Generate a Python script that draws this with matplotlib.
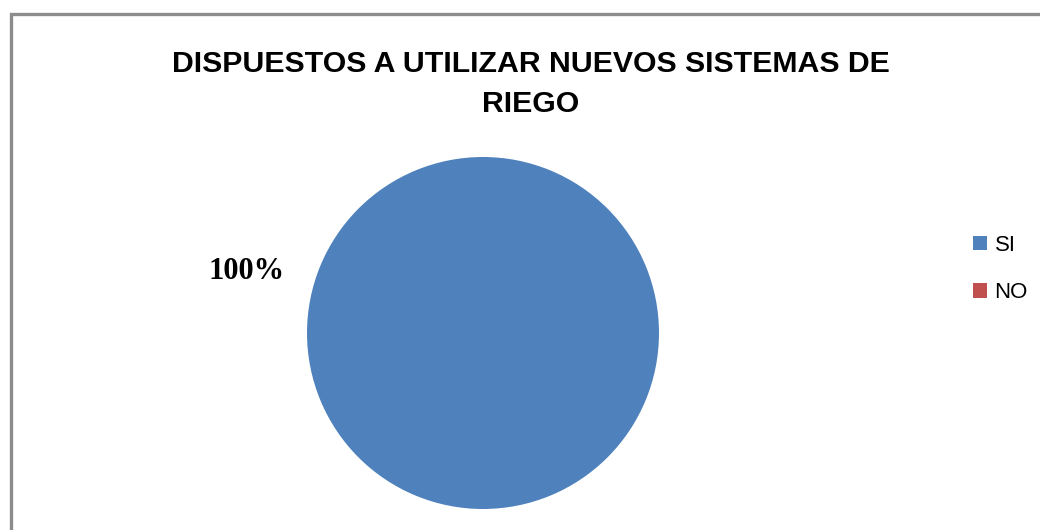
import matplotlib.pyplot as plt
from matplotlib.patches import Rectangle

labels = ['SI', 'NO']
values = [100, 0]
colors = ['#4F81BD', '#C0504D']
title = 'DISPUESTOS A UTILIZAR NUEVOS SISTEMAS DE\nRIEGO'

W, H = 1040, 530
fig = plt.figure(figsize=(W / 100, H / 100), dpi=100)

# chart frame (gray border, clipped at right/bottom)
fig.patches.append(Rectangle((10.5 / W, -0.05), 1.1, (H - 13.5) / H + 0.05,
                             transform=fig.transFigure, fill=False,
                             edgecolor='#8c8c8c', linewidth=2.4))

# pie axes: center (483,333) px, radius 176 px
cx, cy, r = 483, 333, 176
ax = fig.add_axes([(cx - r) / W, (H - cy - r) / H, 2 * r / W, 2 * r / H])

def pct(p):
    return '%d%%' % round(p) if p > 0 else ''

wedges, texts, autotexts = ax.pie(values, colors=colors, startangle=-14.5,
                                  autopct=pct, pctdistance=1.39,
                                  wedgeprops=dict(linewidth=0))
for t in autotexts:
    t.set_fontfamily('Liberation Serif')
    t.set_fontweight('bold')
    t.set_fontsize(22)
ax.set_xlim(-1, 1)
ax.set_ylim(-1, 1)
ax.set_aspect('equal')

fig.text(531 / W, 1 - 84 / H, title, ha='center', va='center',
         fontfamily='Liberation Sans', fontweight='bold', fontsize=21.8,
         linespacing=1.55)

fig.legend(wedges, labels, loc='center left',
           bbox_to_anchor=(953 / W, 1 - 269 / H), frameon=False,
           prop={'family': 'Liberation Sans', 'size': 16},
           handlelength=0.62, handleheight=0.62, handletextpad=0.35,
           labelspacing=1.2)

fig.savefig('out.png', dpi=100)
